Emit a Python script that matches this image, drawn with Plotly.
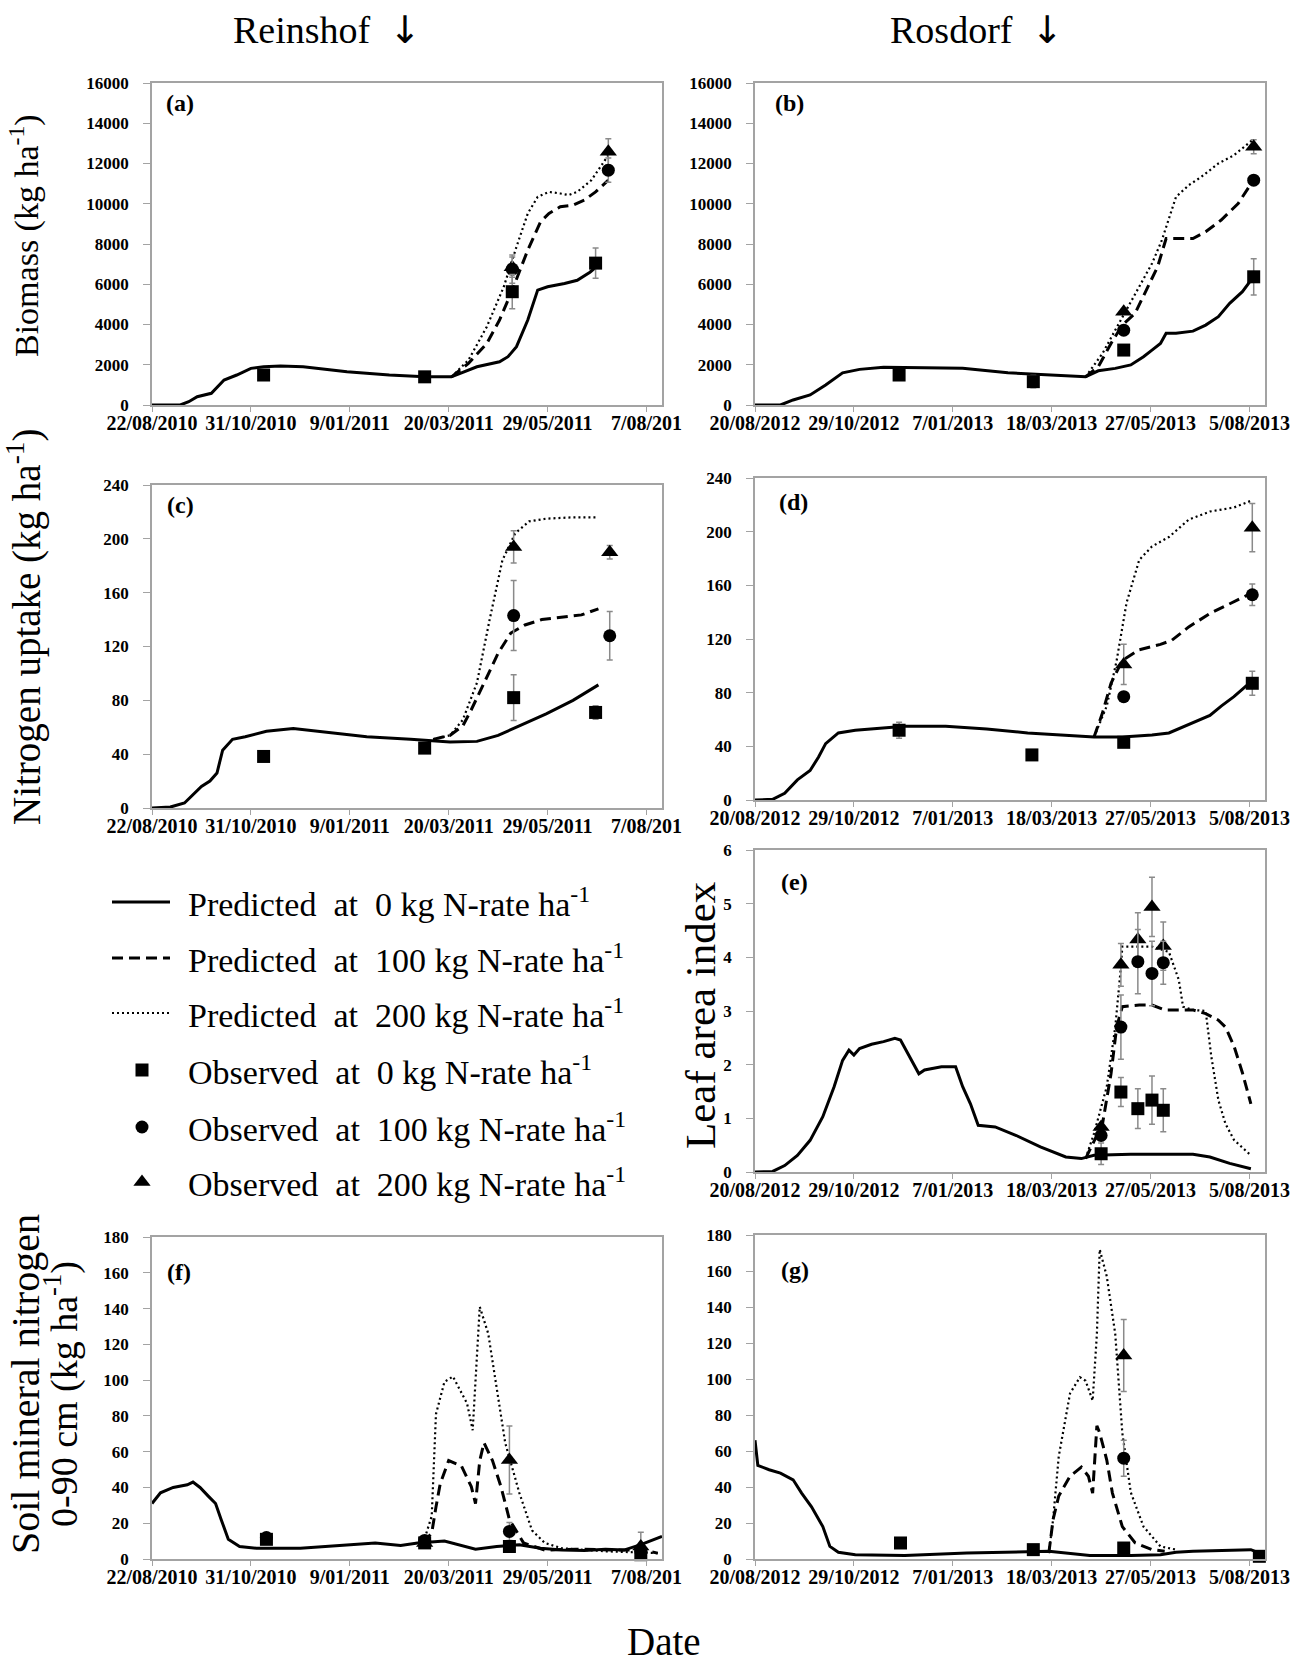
import pandas as pd
import plotly.graph_objects as go

W, H = 1304, 1667
SERIF = "Liberation Serif"
FRAME = "#a3a3a3"
ERRC = "#8a8a8a"

START_L = "2010-08-22"
START_R = "2012-08-20"
END_L = "2011-08-18"
END_R = "2013-08-16"

TICKS_L = ["2010-08-22", "2010-10-31", "2011-01-09", "2011-03-20", "2011-05-29", "2011-08-07"]
TICKTEXT_L = ["22/08/2010", "31/10/2010", "9/01/2011", "20/03/2011", "29/05/2011", "7/08/201"]
TICKS_R = ["2012-08-20", "2012-10-29", "2013-01-07", "2013-03-18", "2013-05-27", "2013-08-05"]
TICKTEXT_R = ["20/08/2012", "29/10/2012", "7/01/2013", "18/03/2013", "27/05/2013", "5/08/2013"]

# ---------------- (a) Reinshof biomass (days after 22/08/2010) ----------------
a_p0_d = [0, 20, 26, 32, 42, 51, 60, 70, 79, 91, 107, 138, 168, 193, 212, 218, 230, 246, 252, 258, 266, 273, 280, 292, 301, 310, 316]
a_p0_v = [0, 0, 165, 410, 580, 1240, 1490, 1820, 1900, 1935, 1900, 1655, 1490, 1400, 1400, 1570, 1900, 2150, 2400, 2900, 4220, 5710, 5875, 6040, 6200, 6600, 6950]
a_p100_d = [212, 224, 237, 246, 255, 266, 275, 281, 289, 298, 306, 314, 323]
a_p100_v = [1400, 2070, 3060, 4220, 5710, 7700, 9100, 9520, 9850, 9930, 10180, 10590, 11170]
a_p200_d = [212, 224, 237, 249, 258, 266, 273, 281, 289, 295, 301, 311, 323]
a_p200_v = [1400, 2230, 3890, 5875, 7860, 9520, 10340, 10590, 10510, 10430, 10590, 11170, 12410]
a_o0_d = [79, 193, 255, 314]
a_o0_v = [1490, 1400, 5630, 7050]
a_o0_e = [0, 0, 850, 750]
a_o100_d = [255, 323]
a_o100_v = [6750, 11670]
a_o100_e = [700, 600]
a_o200_d = [255, 323]
a_o200_v = [6850, 12580]
a_o200_e = [500, 650]

# ---------------- (b) Rosdorf biomass (days after 20/08/2012) ----------------
b_p0_d = [0, 18, 27, 39, 50, 62, 74, 91, 120, 147, 179, 208, 223, 234, 243, 255, 266, 275, 281, 287, 291, 298, 310, 319, 328, 336, 345, 352]
b_p0_v = [0, 0, 250, 500, 990, 1600, 1770, 1870, 1850, 1820, 1600, 1490, 1440, 1400, 1700, 1820, 1990, 2400, 2730, 3060, 3560, 3560, 3670, 3970, 4390, 5050, 5630, 6290]
b_p100_d = [234, 243, 252, 260, 269, 278, 285, 291, 298, 310, 319, 330, 342, 352]
b_p100_v = [1400, 1900, 3060, 3970, 4550, 5875, 6870, 8270, 8270, 8270, 8610, 9190, 10010, 11090]
b_p200_d = [234, 246, 255, 263, 272, 281, 288, 298, 307, 316, 328, 339, 352]
b_p200_v = [1400, 2565, 3720, 4720, 5875, 7030, 8190, 10340, 10920, 11340, 12000, 12410, 13160]
b_o0_d = [102, 197, 261, 353]
b_o0_v = [1490, 1160, 2730, 6370]
b_o0_e = [250, 300, 0, 900]
b_o100_d = [261, 353]
b_o100_v = [3720, 11170]
b_o100_e = [0, 0]
b_o200_d = [261, 353]
b_o200_v = [4630, 12830]
b_o200_e = [0, 350]

# ---------------- (c) Reinshof N uptake ----------------
c_p0_d = [0, 13, 23, 29, 35, 41, 46, 50, 57, 66, 81, 100, 118, 152, 183, 211, 230, 245, 260, 279, 298, 316]
c_p0_v = [0, 0.7, 3.7, 9.9, 16, 20, 26, 43, 51, 53, 57, 59, 57, 53, 51, 49, 49.5, 54, 61, 70, 80, 91.5]
c_p100_d = [199, 211, 220, 226, 236, 245, 254, 264, 276, 291, 304, 316]
c_p100_v = [51, 54, 61, 73, 95, 115, 130, 136, 140, 142, 143.5, 148]
c_p200_d = [199, 211, 220, 230, 239, 248, 257, 267, 279, 298, 316]
c_p200_v = [51, 54, 65.5, 93, 140, 184, 204, 213, 215, 216, 216]
c_o0_d = [79, 193, 256, 314]
c_o0_v = [38.3, 44.5, 82, 71]
c_o0_e = [0, 0, 17, 5]
c_o100_d = [256, 324]
c_o100_v = [143, 128]
c_o100_e = [26, 18]
c_o200_d = [256, 324]
c_o200_v = [194, 190]
c_o200_e = [12, 5]

# ---------------- (d) Rosdorf N uptake ----------------
d_p0_d = [0, 12.5, 21, 30, 39, 45, 50, 59, 71, 88, 106, 135, 164, 193, 223, 240, 260, 281, 293, 301, 310, 322, 330, 339, 351]
d_p0_v = [0, 0.5, 5, 15, 22, 32, 42, 50, 52, 53.5, 55, 55, 53, 50, 48, 47, 47, 48.5, 50, 53.5, 58, 63, 70, 77, 88]
d_p100_d = [240, 246, 252, 260, 272, 287, 295, 307, 322, 339, 351]
d_p100_v = [47, 65, 87, 104, 112, 116, 119, 129, 139, 148, 154]
d_p200_d = [240, 249, 256, 263, 272, 281, 293, 307, 322, 339, 351]
d_p200_v = [47, 70, 104, 147, 179, 189, 196, 209, 215, 218, 223]
d_o0_d = [102, 196, 261, 352]
d_o0_v = [52, 33.6, 43, 87]
d_o0_e = [6, 0, 0, 9]
d_o100_d = [261, 352]
d_o100_v = [77, 153]
d_o100_e = [0, 8]
d_o200_d = [261, 352]
d_o200_v = [101, 203]
d_o200_e = [15, 18]

# ---------------- (e) Rosdorf leaf area index ----------------
e_p0_d = [0, 12.5, 21, 30, 39, 48, 56, 62, 66.5, 70, 74, 82.5, 91, 99, 103, 107, 112, 116, 120, 132, 142, 147, 152.5, 158, 170, 185, 202, 220, 231, 240, 266, 310, 322, 336, 351]
e_p0_v = [0, 0.01, 0.12, 0.31, 0.59, 1.03, 1.59, 2.08, 2.27, 2.18, 2.30, 2.38, 2.43, 2.49, 2.46, 2.27, 2.02, 1.83, 1.90, 1.96, 1.96, 1.59, 1.27, 0.87, 0.84, 0.68, 0.47, 0.28, 0.25, 0.31, 0.33, 0.33, 0.28, 0.16, 0.06]
e_p100_d = [234, 240, 246, 252, 256, 260, 272, 281, 290, 310, 319, 328, 333, 339, 345, 351]
e_p100_v = [0.25, 0.59, 0.9, 1.83, 2.7, 3.08, 3.11, 3.11, 3.02, 3.02, 2.95, 2.83, 2.7, 2.35, 1.85, 1.27]
e_p200_d = [234, 240, 249, 255, 259, 260, 270, 281, 293, 300, 303, 310, 319, 323, 328, 333, 339, 351]
e_p200_v = [0.25, 0.72, 1.59, 2.7, 3.82, 4.2, 4.2, 4.2, 4.1, 3.58, 3.08, 3.02, 3.0, 2.15, 1.34, 0.9, 0.6, 0.31]
e_o0_d = [245, 259, 271, 281, 289]
e_o0_v = [0.34, 1.49, 1.18, 1.34, 1.15]
e_o0_e = [0.2, 0.27, 0.37, 0.45, 0.4]
e_o100_d = [245, 259, 271, 281, 289]
e_o100_v = [0.68, 2.7, 3.92, 3.7, 3.9]
e_o100_e = [0, 0.6, 0.6, 0.6, 0.4]
e_o200_d = [245, 259, 271, 281, 289]
e_o200_v = [0.84, 3.86, 4.33, 4.94, 4.21]
e_o200_e = [0, 0.4, 0.5, 0.55, 0.45]

# ---------------- (f) Reinshof soil mineral N ----------------
f_p0_d = [0, 6, 15, 25, 29, 34, 40, 45, 49, 54, 62, 74, 105, 136, 158, 176, 188, 207, 216, 229, 244, 260, 275, 290, 306, 321, 334, 346, 361]
f_p0_v = [31, 37, 40, 41.5, 43, 40, 35, 31, 22, 11, 7, 6, 6, 8, 9, 7.5, 9, 10, 8, 5.5, 7, 8, 6, 5, 4.8, 5.5, 5, 8, 12.6]
f_p100_d = [192, 198, 201, 204, 210, 219, 226, 229, 232, 235, 241, 247, 253, 263, 278, 300, 330, 346, 358]
f_p100_v = [9, 14.5, 29, 42, 55, 52, 40.5, 31, 55, 65, 55, 40.5, 22, 9, 5, 5.5, 5, 5.2, 3.3]
f_p200_d = [192, 198, 201, 207, 213, 223, 227, 230, 232, 238, 244, 250, 260, 269, 278, 290, 321, 358]
f_p200_v = [9, 24, 81, 99, 102, 87, 72, 117, 141, 126, 96, 65, 37, 16, 9, 6, 4.3, 3.3]
f_o0_d = [81, 193, 253, 346]
f_o0_v = [11, 9, 7, 2.4]
f_o0_e = [0, 0, 0, 0]
f_o100_d = [81, 193, 253, 346]
f_o100_v = [12, 10.4, 15.4, 4.3]
f_o100_e = [0, 0, 5, 0]
f_o200_d = [193, 253, 346]
f_o200_v = [9, 55.4, 7]
f_o200_e = [0, 19, 8]

# ---------------- (g) Rosdorf soil mineral N ----------------
g_p0_d = [0, 2, 10, 18, 27, 33, 40, 48, 53, 59, 71, 106, 150, 179, 208, 237, 266, 287, 298, 310, 330, 351, 357]
g_p0_v = [66, 52, 49.6, 47.7, 44, 36.6, 29, 18, 7, 3.7, 2.4, 1.9, 3.3, 3.7, 4.3, 1.9, 1.9, 2.4, 3.7, 4.3, 4.8, 5.2, 3.3]
g_p100_d = [208, 211, 215, 223, 231, 236, 239, 242, 244, 249, 253, 260, 269, 281, 290]
g_p100_v = [3.3, 22, 35, 46, 51, 46, 36.6, 74, 70, 55, 36.6, 18, 9, 5.2, 4.3]
g_p200_d = [208, 211, 215, 223, 230, 234, 239, 242, 244, 249, 255, 260, 266, 275, 287, 298]
g_p200_v = [3.3, 22, 57, 92, 101, 99, 88, 125, 172, 157, 125, 70, 37, 18, 7, 5.2]
g_o0_d = [103, 197, 261, 357]
g_o0_v = [8.9, 5.2, 6.1, 1.5]
g_o0_e = [0, 0, 0, 0]
g_o100_d = [261]
g_o100_v = [56]
g_o100_e = [10]
g_o200_d = [261]
g_o200_v = [113]
g_o200_e = [20]

LEGEND_TEXT = [
    "Predicted  at  0 kg N-rate ha<sup>-1</sup>",
    "Predicted  at  100 kg N-rate ha<sup>-1</sup>",
    "Predicted  at  200 kg N-rate ha<sup>-1</sup>",
    "Observed  at  0 kg N-rate ha<sup>-1</sup>",
    "Observed  at  100 kg N-rate ha<sup>-1</sup>",
    "Observed  at  200 kg N-rate ha<sup>-1</sup>",
]


def dates(start, days):
    base = pd.Timestamp(start)
    return [(base + pd.Timedelta(days=float(d))).strftime("%Y-%m-%d %H:%M") for d in days]


LINE_STYLES = {
    "p0": dict(color="black", width=3),
    "p100": dict(color="black", width=3, dash="11px,6px"),
    "p200": dict(color="black", width=2.2, dash="2px,3px"),
}
MARKERS = {
    "o0": dict(symbol="square", size=13, color="black"),
    "o100": dict(symbol="circle", size=13, color="black"),
    "o200": dict(symbol="triangle-up", size=15, color="black"),
}

# x tick label standoff (negative pulls labels toward the axis, if supported)
try:
    go.layout.XAxis(ticklabelstandoff=-6)
    XSO = -6
except Exception:
    XSO = 0

g = globals()
panels = [
    ("a", 1, START_L), ("b", 2, START_R), ("c", 3, START_L), ("d", 4, START_R),
    ("e", 5, START_R), ("f", 6, START_L), ("g", 7, START_R),
]

fig = go.Figure()
for key, n, start in panels:
    xa = "x" if n == 1 else f"x{n}"
    ya = "y" if n == 1 else f"y{n}"
    for s in ["p0", "p100", "p200"]:
        fig.add_trace(go.Scatter(
            x=dates(start, g[f"{key}_{s}_d"]), y=g[f"{key}_{s}_v"],
            mode="lines", line=LINE_STYLES[s], xaxis=xa, yaxis=ya,
            showlegend=False, hoverinfo="skip"))
    for s in ["o200", "o100", "o0"]:
        fig.add_trace(go.Scatter(
            x=dates(start, g[f"{key}_{s}_d"]), y=g[f"{key}_{s}_v"],
            mode="markers", marker=MARKERS[s], xaxis=xa, yaxis=ya,
            error_y=dict(type="data", array=g[f"{key}_{s}_e"], color=ERRC, thickness=1.5, width=3),
            cliponaxis=False, showlegend=False, hoverinfo="skip"))

# ----- layout geometry (pixels) -----
LX = (152, 662)
RX = (755, 1265)
YBOX = {1: (83, 405), 2: (83, 405), 3: (485, 808), 4: (478, 800), 5: (850, 1172), 6: (1237, 1559), 7: (1235, 1559)}
YRANGE = {1: (0, 16000, 2000), 2: (0, 16000, 2000), 3: (0, 240, 40), 4: (0, 240, 40), 5: (0, 6, 1), 6: (0, 180, 20), 7: (0, 180, 20)}


def xd(px):
    return [px[0] / W, px[1] / W]


def yd(px):
    return [1 - px[1] / H, 1 - px[0] / H]


layout = dict(width=W, height=H, margin=dict(l=0, r=0, t=0, b=0, pad=0, autoexpand=False),
              paper_bgcolor="white", plot_bgcolor="white", showlegend=False,
              font=dict(family=SERIF, color="black"))

for key, n, start in panels:
    left = start == START_L
    xs = "" if n == 1 else str(n)
    layout[f"xaxis{xs}"] = dict(
        domain=xd(LX if left else RX), anchor=f"y{xs}", type="date",
        range=[START_L, END_L] if left else [START_R, END_R],
        tickmode="array", tickvals=TICKS_L if left else TICKS_R,
        ticktext=TICKTEXT_L if left else TICKTEXT_R,
        showline=True, linecolor=FRAME, linewidth=1.5, mirror=True,
        ticks="outside", ticklen=5, tickcolor=FRAME, tickwidth=1.2,
        ticklabelstandoff=XSO, automargin=False,
        tickfont=dict(family=SERIF, size=20, color="black", weight="bold"),
        showgrid=False, zeroline=False, fixedrange=True)
    lo, hi, dt = YRANGE[n]
    layout[f"yaxis{xs}"] = dict(
        domain=yd(YBOX[n]), anchor=f"x{xs}", range=[lo, hi], dtick=dt, tick0=0,
        tickformat="d",
        showline=True, linecolor=FRAME, linewidth=1.5, mirror=True,
        ticks="outside", ticklen=7, tickcolor=FRAME, tickwidth=1.2,
        ticklabelstandoff=11, automargin=False,
        tickfont=dict(family=SERIF, size=17, color="black", weight="bold"),
        showgrid=False, zeroline=False, fixedrange=True)

# legend panel (hidden axes in pixel units)
layout["xaxis8"] = dict(domain=[0, 652 / W], range=[0, 652], visible=False, anchor="y8",
                        fixedrange=True, automargin=False)
layout["yaxis8"] = dict(domain=[1 - 1210 / H, 1 - 875 / H], range=[1210, 875], visible=False,
                        anchor="x8", fixedrange=True, automargin=False)

LEG_Y = [902, 958, 1013, 1070, 1127, 1182]
for i, s in enumerate(["p0", "p100", "p200"]):
    fig.add_trace(go.Scatter(x=[112, 170], y=[LEG_Y[i]] * 2, mode="lines", line=LINE_STYLES[s],
                             xaxis="x8", yaxis="y8", showlegend=False, hoverinfo="skip"))
for i, s in enumerate(["o0", "o100", "o200"]):
    fig.add_trace(go.Scatter(x=[142], y=[LEG_Y[3 + i]], mode="markers", marker=MARKERS[s],
                             xaxis="x8", yaxis="y8", showlegend=False, hoverinfo="skip"))

fig.update_layout(**layout)

ann = []
for i, t in enumerate(LEGEND_TEXT):
    ann.append(dict(text=t, x=186, y=LEG_Y[i], xref="x8", yref="y8", xanchor="left", yanchor="middle",
                    showarrow=False, font=dict(family=SERIF, size=34, color="black")))

# panel letters: (key, axis suffix, dx px, dy px)
letters = [("a", "", 12, 20), ("b", "2", 18, 20), ("c", "3", 13, 20), ("d", "4", 22, 24),
           ("e", "5", 24, 32), ("f", "6", 13, 35), ("g", "7", 24, 35)]
for k, xs, dx, dy in letters:
    n = int(xs) if xs else 1
    top, bot = YBOX[n]
    ann.append(dict(text=f"({k})", x=dx / 510, y=1 - dy / (bot - top),
                    xref=f"x{xs} domain", yref=f"y{xs} domain", xanchor="left", yanchor="middle",
                    showarrow=False, font=dict(family=SERIF, size=24, color="black", weight="bold")))


def pa(text, x, y, size, angle=0, yanchor="middle"):
    return dict(text=text, x=x / W, y=1 - y / H, xref="paper", yref="paper", xanchor="center",
                yanchor=yanchor, showarrow=False, textangle=angle,
                font=dict(family=SERIF, size=size, color="black"))


ARROW = "<span style=\"font-family:'DejaVu Sans';font-size:38px\">↓</span>"
ann += [
    pa("Reinshof&nbsp;&nbsp;" + ARROW, 327, 30, 38),
    pa("Rosdorf&nbsp;&nbsp;" + ARROW, 976, 30, 38),
    pa("Biomass (kg ha<sup>-1</sup>)", 24, 236, 34, -90),
    pa("Nitrogen uptake (kg ha<sup>-1</sup>)", 24, 627, 39, -90),
    pa("Leaf area index", 700, 1016, 43, -90),
    pa("Soil mineral nitrogen", 25, 1384, 40, -90),
    pa("0-90 cm (kg ha<sup>-1</sup>)", 61, 1394, 38, -90),
    pa("Date", 664, 1665, 39, 0, "bottom"),
]
fig.update_layout(annotations=ann)

fig.write_html("out.html")
